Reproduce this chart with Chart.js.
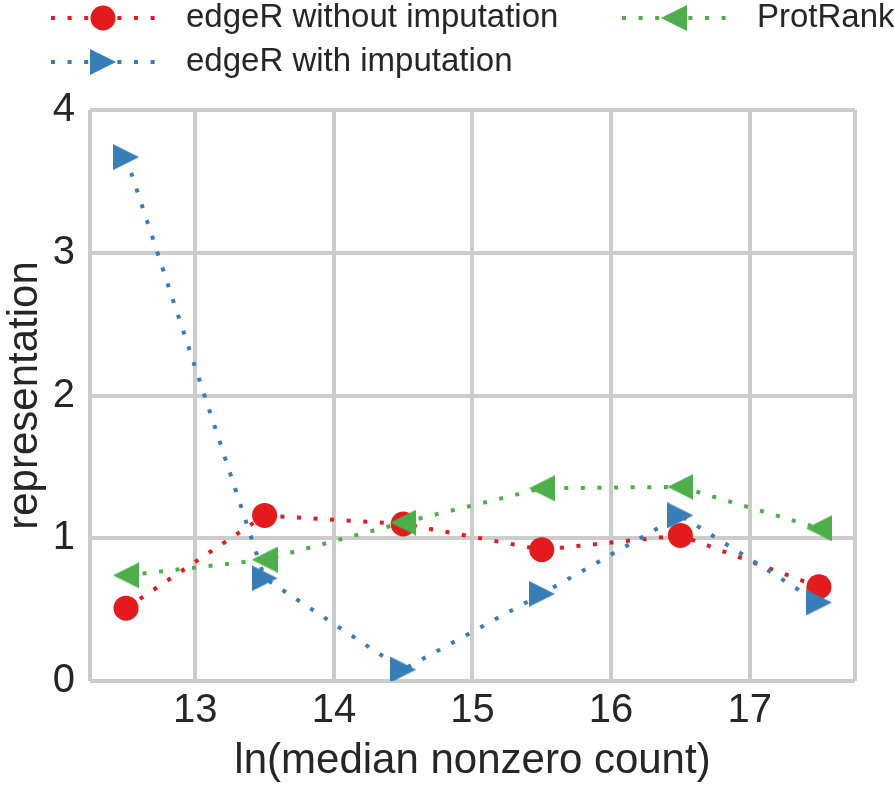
<!DOCTYPE html>
<html>
<head>
<meta charset="utf-8">
<script src="https://cdn.jsdelivr.net/npm/chart.js@4/dist/chart.umd.min.js"></script>
<style>
  html, body { margin: 0; background: #fff; }
  #wrap { width: 894px; height: 789px; }
</style>
</head>
<body>
<div id="wrap"><canvas id="chart"></canvas></div>
<script>
const xValues = [12.5, 13.5, 14.5, 15.5, 16.5, 17.5];
const withoutImputation = [0.51, 1.16, 1.10, 0.92, 1.02, 0.66];
const withImputation = [3.67, 0.72, 0.08, 0.61, 1.16, 0.55];
const protRank = [0.74, 0.85, 1.11, 1.35, 1.36, 1.07];
const xTicks = [13, 14, 15, 16, 17];
const yTicks = [0, 1, 2, 3, 4];
const seriesLabels = ['edgeR without imputation', 'edgeR with imputation', 'ProtRank'];

const RED = '#e41a1c';
const BLUE = '#377eb8';
const GREEN = '#4daf4a';
const TEXT = '#262626';
const GRID = '#cccccc';
const FONT = "'Liberation Sans', Arial, Helvetica, sans-serif";
const DASH = [4, 12.6];

// matplotlib-like '>' and '<' markers as small canvases
function triangle(color, dir) {
  const c = document.createElement('canvas');
  c.width = 26;
  c.height = 26;
  const g = c.getContext('2d');
  g.fillStyle = color;
  g.beginPath();
  if (dir === 'right') {
    g.moveTo(0, 0); g.lineTo(26, 13); g.lineTo(0, 26);
  } else {
    g.moveTo(26, 0); g.lineTo(0, 13); g.lineTo(26, 26);
  }
  g.closePath();
  g.fill();
  return c;
}

const blueMarker = triangle(BLUE, 'right');
const greenMarker = triangle(GREEN, 'left');

function series(label, values, color, marker, order) {
  return {
    label,
    data: xValues.map((x, i) => ({ x, y: values[i] })),
    borderColor: color,
    backgroundColor: color,
    borderWidth: 4,
    borderDash: DASH,
    borderCapStyle: 'butt',
    pointStyle: marker,
    pointRadius: 12.5,
    pointHoverRadius: 12.5,
    pointBorderWidth: 0,
    tension: 0,
    fill: false,
    clip: 0,
    order
  };
}

const legendPlugin = {
  id: 'sketchLegend',
  afterDraw(chart) {
    const ctx = chart.ctx;
    const items = [
      { label: seriesLabels[0], color: RED, marker: 'circle', x0: 51, x1: 155, y: 18 },
      { label: seriesLabels[1], color: BLUE, marker: blueMarker, x0: 51, x1: 155, y: 62 },
      { label: seriesLabels[2], color: GREEN, marker: greenMarker, x0: 622, x1: 726, y: 18 }
    ];
    ctx.save();
    items.forEach(item => {
      ctx.strokeStyle = item.color;
      ctx.lineWidth = 4;
      ctx.setLineDash(DASH);
      ctx.beginPath();
      ctx.moveTo(item.x0, item.y);
      ctx.lineTo(item.x1, item.y);
      ctx.stroke();
      ctx.setLineDash([]);
      const mx = (item.x0 + item.x1) / 2;
      if (item.marker === 'circle') {
        ctx.fillStyle = item.color;
        ctx.beginPath();
        ctx.arc(mx, item.y, 12.5, 0, Math.PI * 2);
        ctx.fill();
      } else {
        ctx.drawImage(item.marker, mx - 13, item.y - 13);
      }
      ctx.fillStyle = TEXT;
      ctx.font = `33px ${FONT}`;
      ctx.textBaseline = 'middle';
      ctx.textAlign = 'left';
      ctx.fillText(item.label, item.x1 + 31, item.y);
    });
    ctx.restore();
  }
};

new Chart(document.getElementById('chart'), {
  type: 'line',
  data: {
    datasets: [
      series(seriesLabels[0], withoutImputation, RED, 'circle', 2),
      series(seriesLabels[1], withImputation, BLUE, blueMarker, 1),
      series(seriesLabels[2], protRank, GREEN, greenMarker, 0)
    ]
  },
  options: {
    responsive: true,
    maintainAspectRatio: false,
    animation: false,
    events: [],
    layout: { padding: { top: 110, right: 39, bottom: 0, left: 0 } },
    plugins: {
      legend: { display: false },
      tooltip: { enabled: false }
    },
    scales: {
      x: {
        type: 'linear',
        min: 12.24,
        max: 17.76,
        afterBuildTicks: s => {
          s.ticks = [s.min, ...xTicks, s.max].map(v => ({ value: v }));
        },
        afterFit: s => { s.height = 108; },
        ticks: {
          autoSkip: false,
          maxRotation: 0,
          padding: 6,
          color: TEXT,
          font: { family: FONT, size: 40 },
          callback: v => (xTicks.includes(v) ? String(v) : '')
        },
        grid: { color: GRID, lineWidth: 4, drawTicks: false },
        border: { display: false },
        title: {
          display: true,
          text: 'ln(median nonzero count)',
          color: TEXT,
          font: { family: FONT, size: 42 },
          padding: { top: 0, bottom: 2 }
        }
      },
      y: {
        min: 0,
        max: 4,
        afterBuildTicks: s => {
          s.ticks = yTicks.map(v => ({ value: v }));
        },
        afterFit: s => { s.width = 90; },
        ticks: {
          padding: 15,
          color: TEXT,
          font: { family: FONT, size: 40 }
        },
        grid: { color: GRID, lineWidth: 4, drawTicks: false },
        border: { display: false },
        title: {
          display: true,
          text: 'representation',
          color: TEXT,
          font: { family: FONT, size: 42 },
          padding: 0
        }
      }
    }
  },
  plugins: [legendPlugin]
});
</script>
</body>
</html>
